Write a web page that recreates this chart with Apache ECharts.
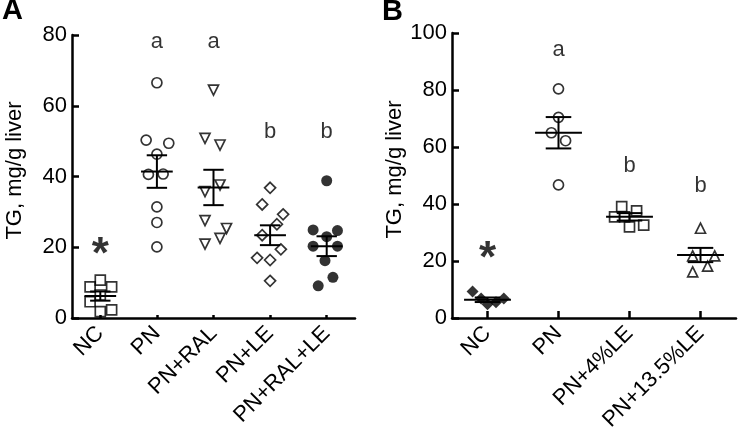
<!DOCTYPE html>
<html><head><meta charset="utf-8">
<script src="https://cdn.jsdelivr.net/npm/echarts@6/dist/echarts.min.js"></script>
<style>html,body{margin:0;padding:0;background:#fff}#c{width:738px;height:439px}</style>
</head><body><div id="c"></div>
<script>
// ---------- Panel A data ----------
const catsA = ['NC', 'PN', 'PN+RAL', 'PN+LE', 'PN+RAL+LE'];
const ncA      = [10.7, 8.8, 8.8, 6.5, 4.6, 1.8, 2.3];
const ncAJit   = [0, -0.18, 0.2, 0, -0.18, 0, 0.2];
const pnA      = [66.5, 50.3, 49.4, 46.3, 40.6, 40.7, 31.4, 27.0, 20.1];
const pnAJit   = [0, -0.19, 0.21, 0, -0.15, 0.11, 0, 0, 0];
const ralA     = [64.4, 50.8, 48.9, 35.7, 37.6, 27.5, 25.3, 22.5, 20.9];
const ralAJit  = [0, -0.15, 0.115, -0.15, 0.115, -0.15, 0.23, 0.115, -0.15];
const leA      = [36.8, 32.1, 29.3, 26.5, 23.4, 19.4, 17.0, 16.4, 10.5];
const leAJit   = [0, -0.14, 0.23, 0.12, -0.14, 0.19, -0.23, 0, 0];
const ralleA   = [38.8, 24.9, 24.7, 23.0, 20.3, 20.3, 16.2, 11.5, 9.1];
const ralleAJit= [0, -0.24, 0.19, 0, -0.24, 0.19, -0.03, 0.11, -0.15];
const meanA = [6.2, 41.4, 36.9, 23.4, 20.3];
const semA  = [1.3, 4.6, 5.0, 2.8, 2.8];
const annTextA = ['*', 'a', 'a', 'b', 'b'];
const annYA    = [19.9, 78, 78, 52.5, 52.5];
const yTicksA  = {min: 0, max: 80, step: 20};

// ---------- Panel B data ----------
const catsB = ['NC', 'PN', 'PN+4%LE', 'PN+13.5%LE'];
const ncB      = [9.3, 6.8, 4.8, 5.5, 6.8];
const ncBJit   = [-0.21, -0.09, 0, 0.12, 0.23];
const pnB      = [80.4, 70.4, 65.0, 62.2, 46.7];
const pnBJit   = [0, 0, -0.1, 0.1, 0];
const le4B     = [39.1, 37.6, 35.5, 35.5, 32.0, 32.6];
const le4BJit  = [-0.11, 0.10, -0.21, -0.07, 0, 0.2];
const le135B   = [31.5, 21.8, 21.8, 18.2, 16.2];
const le135BJit= [0, -0.11, 0.2, 0.1, -0.11];
const meanB = [6.4, 65.0, 35.5, 22.1];
const semB  = [0.8, 5.5, 1.3, 2.5];
const annTextB = ['*', 'a', 'b', 'b'];
const annYB    = [23.3, 94, 53.2, 46.5];
const yTicksB  = {min: 0, max: 100, step: 20};

const FONT = "'Liberation Sans', Arial, Helvetica, sans-serif";
const BLACK = '#000';

function pts(vals, jit, idx) { return vals.map((v, k) => [idx + jit[k], v]); }

function groupSeries(vals, jit, idx, xi, yi, symbol, size, filled, rotate) {
  return {
    type: 'scatter', xAxisIndex: xi, yAxisIndex: yi,
    data: pts(vals, jit, idx), symbol: symbol, symbolSize: size,
    symbolRotate: rotate || 0, silent: true, z: 3,
    itemStyle: filled ? {color: BLACK, borderColor: BLACK, borderWidth: 0}
                      : {color: 'rgba(0,0,0,0)', borderColor: BLACK, borderWidth: 1.7}
  };
}

function meanSeries(means, sems, xi, yi, hw, cw) {
  return {
    type: 'custom', xAxisIndex: xi, yAxisIndex: yi, z: 5, silent: true,
    data: means.map((m, i) => [i, m, sems[i]]),
    encode: {x: 0, y: 1},
    renderItem: function (params, api) {
      const i = api.value(0), m = api.value(1), s = api.value(2);
      const L = api.coord([i - hw, m]), R = api.coord([i + hw, m]);
      const T = api.coord([i, m + s]), B = api.coord([i, m - s]);
      const TL = api.coord([i - cw, m + s]), TR = api.coord([i + cw, m + s]);
      const BL = api.coord([i - cw, m - s]), BR = api.coord([i + cw, m - s]);
      const st = {stroke: BLACK, lineWidth: 2};
      return {type: 'group', children: [
        {type: 'line', shape: {x1: L[0], y1: L[1], x2: R[0], y2: R[1]}, style: st},
        {type: 'line', shape: {x1: T[0], y1: T[1], x2: B[0], y2: B[1]}, style: st},
        {type: 'line', shape: {x1: TL[0], y1: TL[1], x2: TR[0], y2: TR[1]}, style: st},
        {type: 'line', shape: {x1: BL[0], y1: BL[1], x2: BR[0], y2: BR[1]}, style: st}
      ]};
    }
  };
}

// text annotations; `star` selects the asterisk subset, otherwise the letters
function annSeries(texts, ys, xi, yi, star) {
  const data = [];
  texts.forEach((t, i) => {
    if ((t === '*') === star) data.push({value: [i, ys[i]], name: t});
  });
  return {
    type: 'scatter', xAxisIndex: xi, yAxisIndex: yi, symbol: 'circle', symbolSize: 1,
    itemStyle: {color: 'rgba(0,0,0,0)'},
    silent: true, z: 6, data: data,
    label: star
      ? {show: true, position: [0.5, 9], align: 'center', verticalAlign: 'middle',
         formatter: p => p.name, color: BLACK,
         fontSize: 44, fontWeight: 'bold', fontFamily: FONT}
      : {show: true, position: 'inside', formatter: p => p.name, color: BLACK,
         fontSize: 22, fontFamily: FONT},
    labelLayout: {hideOverlap: false}
  };
}

function catAxis(gi, cats, tickLen) {
  return {
    type: 'category', gridIndex: gi, data: cats, boundaryGap: true,
    axisLine: {show: true, onZero: false, lineStyle: {color: BLACK, width: 2.5}},
    axisTick: {show: true, inside: true, alignWithLabel: true, length: tickLen, lineStyle: {color: BLACK, width: 2.5}},
    axisLabel: {rotate: 45, margin: 12, color: BLACK, fontSize: 22, fontFamily: FONT, interval: 0},
    splitLine: {show: false}
  };
}
function hiddenX(gi, n) {
  return {type: 'value', gridIndex: gi, min: -0.5, max: n - 0.5, show: false,
    axisLine: {show: false, onZero: false}, splitLine: {show: false}};
}
function valAxis(gi, t) {
  return {
    type: 'value', gridIndex: gi, min: t.min, max: t.max, interval: t.step,
    name: 'TG, mg/g liver', nameLocation: 'middle', nameGap: 46, nameMoveOverlap: false,
    nameTextStyle: {color: BLACK, fontSize: 22, fontFamily: FONT, padding: [0, 0, 0, 12]},
    axisLine: {show: true, onZero: false, lineStyle: {color: BLACK, width: 2.5}},
    axisTick: {show: true, inside: true, length: 7, lineStyle: {color: BLACK, width: 2.5}},
    axisLabel: {margin: 5, color: BLACK, fontSize: 22, fontFamily: FONT},
    splitLine: {show: false}
  };
}

const chart = echarts.init(document.getElementById('c'), null, {renderer: 'canvas'});
chart.setOption({
  backgroundColor: '#fff',
  animation: false,
  title: [
    {text: 'A', left: 2, top: -4, padding: 0, textStyle: {fontSize: 29, fontWeight: 'bold', color: BLACK, fontFamily: FONT}},
    {text: 'B', left: 382, top: -3, padding: 0, textStyle: {fontSize: 29, fontWeight: 'bold', color: BLACK, fontFamily: FONT}}
  ],
  grid: [
    {left: 72, top: 35, width: 283, height: 283, outerBoundsMode: 'none'},
    {left: 452, top: 33, width: 284, height: 285, outerBoundsMode: 'none'}
  ],
  xAxis: [catAxis(0, catsA, 3), hiddenX(0, catsA.length), catAxis(1, catsB, 7), hiddenX(1, catsB.length)],
  yAxis: [valAxis(0, yTicksA), valAxis(1, yTicksB)],
  series: [
    groupSeries(ncA, ncAJit, 0, 1, 0, 'rect', 10, false),
    groupSeries(pnA, pnAJit, 1, 1, 0, 'circle', 10, false),
    groupSeries(ralA, ralAJit, 2, 1, 0, 'triangle', 10, false, 180),
    groupSeries(leA, leAJit, 3, 1, 0, 'diamond', 11, false),
    groupSeries(ralleA, ralleAJit, 4, 1, 0, 'circle', 11, true),
    meanSeries(meanA, semA, 1, 0, 0.28, 0.18),
    annSeries(annTextA, annYA, 1, 0, false),
    annSeries(annTextA, annYA, 1, 0, true),
    groupSeries(ncB, ncBJit, 0, 3, 1, 'diamond', 12, true),
    groupSeries(pnB, pnBJit, 1, 3, 1, 'circle', 10, false),
    groupSeries(le4B, le4BJit, 2, 3, 1, 'rect', 10, false),
    groupSeries(le135B, le135BJit, 3, 3, 1, 'triangle', 10, false),
    meanSeries(meanB, semB, 3, 1, 0.33, 0.18),
    annSeries(annTextB, annYB, 3, 1, false),
    annSeries(annTextB, annYB, 3, 1, true)
  ]
});
</script>
</body></html>
